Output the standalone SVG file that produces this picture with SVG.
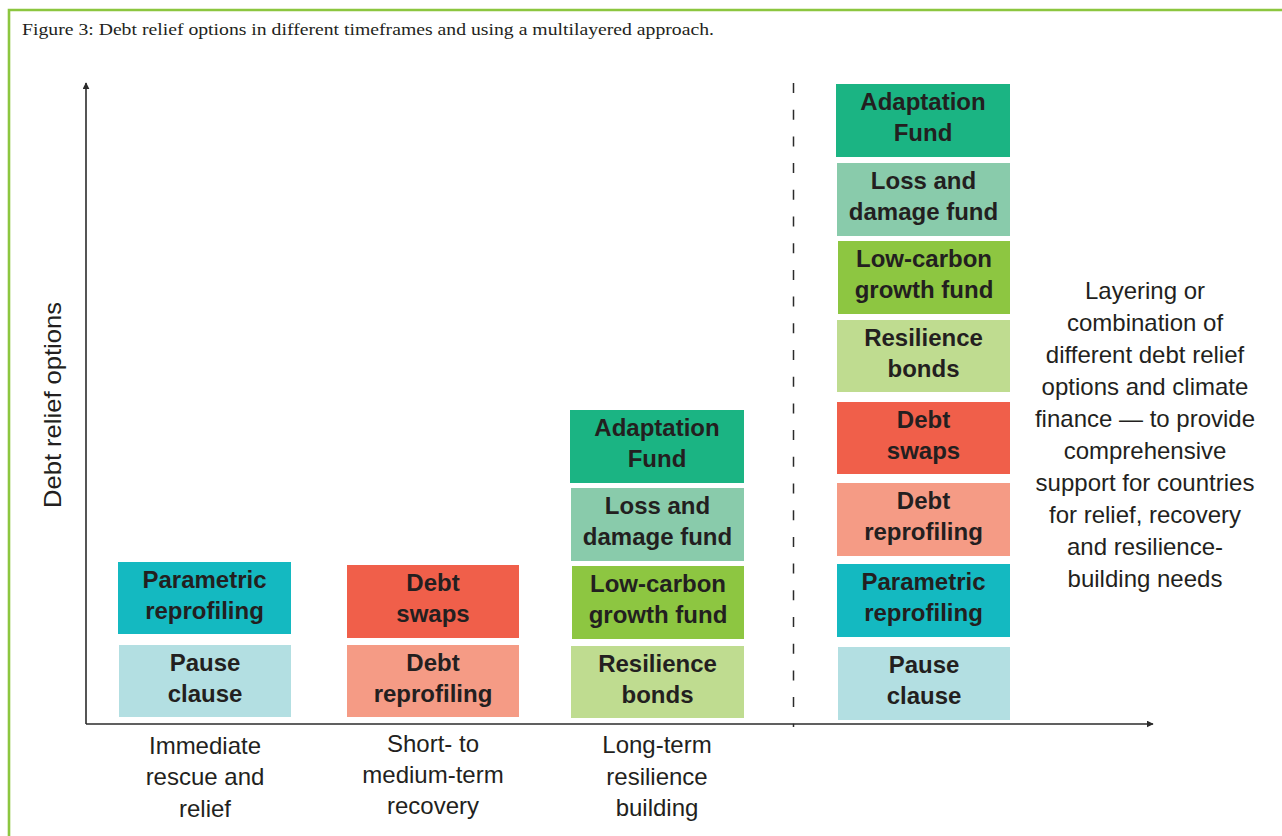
<svg xmlns="http://www.w3.org/2000/svg" width="1282" height="836" viewBox="0 0 1282 836">
<defs>
<style>
.box-label{font-family:"Liberation Sans",Arial,sans-serif;font-size:24px;font-weight:bold;fill:#231f20;text-anchor:middle}
.label{font-family:"Liberation Sans",Arial,sans-serif;font-size:24px;fill:#231f20;text-anchor:middle}
.title{font-family:"Liberation Serif","Times New Roman",serif;font-size:17px;fill:#231f20}
.axis{stroke:#2b2b2b;stroke-width:1.6;fill:none}
.teal{fill:#14b9c1}.paleteal{fill:#b3dfe2}.red{fill:#f05f4a}.salmon{fill:#f59b85}
.green{fill:#1bb483}.mint{fill:#89cbab}.lime{fill:#8dc641}.palelime{fill:#bfdc90}
</style>
<marker id="arr" viewBox="0 0 10 10" refX="9" refY="5" markerWidth="7" markerHeight="7" markerUnits="userSpaceOnUse" orient="auto">
<path d="M0,0 L10,5 L0,10 Z" fill="#2b2b2b"/>
</marker>
</defs>
<rect width="1282" height="836" fill="#ffffff"/>
<path d="M9,836 L9,10 L1282,10" fill="none" stroke="#8cc63f" stroke-width="2.6"/>
<text class="title" x="22" y="35" textLength="692" lengthAdjust="spacingAndGlyphs">Figure 3: Debt relief options in different timeframes and using a multilayered approach.</text>

<g id="connectors">
<line class="axis" x1="86" y1="724" x2="86" y2="83" marker-end="url(#arr)"/>
<line class="axis" x1="86" y1="724" x2="1153" y2="724" marker-end="url(#arr)"/>
<line x1="793.5" y1="83" x2="793.5" y2="727" stroke="#2b2b2b" stroke-width="1.5" stroke-dasharray="10 16.7"/>
</g>

<text class="label" transform="translate(61,405) rotate(-90)" textLength="206" lengthAdjust="spacingAndGlyphs">Debt relief options</text>

<g id="col1-parametric"><rect class="teal" x="118" y="562" width="173" height="72"/><text class="box-label" x="204.5" y="588">Parametric</text><text class="box-label" x="204.5" y="619">reprofiling</text></g>
<g id="col1-pause"><rect class="paleteal" x="119" y="645" width="172" height="72"/><text class="box-label" x="205" y="671">Pause</text><text class="box-label" x="205" y="702">clause</text></g>

<g id="col2-swaps"><rect class="red" x="347" y="565" width="172" height="73"/><text class="box-label" x="433" y="591">Debt</text><text class="box-label" x="433" y="622">swaps</text></g>
<g id="col2-reprofiling"><rect class="salmon" x="347" y="645" width="172" height="72"/><text class="box-label" x="433" y="671">Debt</text><text class="box-label" x="433" y="702">reprofiling</text></g>

<g id="col3-adaptation"><rect class="green" x="570" y="410" width="174" height="73"/><text class="box-label" x="657" y="436">Adaptation</text><text class="box-label" x="657" y="467">Fund</text></g>
<g id="col3-loss"><rect class="mint" x="571" y="488" width="173" height="73"/><text class="box-label" x="657.5" y="514">Loss and</text><text class="box-label" x="657.5" y="545">damage fund</text></g>
<g id="col3-lowcarbon"><rect class="lime" x="572" y="566" width="172" height="73"/><text class="box-label" x="658" y="592">Low-carbon</text><text class="box-label" x="658" y="623">growth fund</text></g>
<g id="col3-resilience"><rect class="palelime" x="571" y="646" width="173" height="72"/><text class="box-label" x="657.5" y="672">Resilience</text><text class="box-label" x="657.5" y="703">bonds</text></g>

<g id="col4-adaptation"><rect class="green" x="836" y="84" width="174" height="73"/><text class="box-label" x="923" y="110">Adaptation</text><text class="box-label" x="923" y="141">Fund</text></g>
<g id="col4-loss"><rect class="mint" x="837" y="163" width="173" height="73"/><text class="box-label" x="923.5" y="189">Loss and</text><text class="box-label" x="923.5" y="220">damage fund</text></g>
<g id="col4-lowcarbon"><rect class="lime" x="838" y="241" width="172" height="73"/><text class="box-label" x="924" y="267">Low-carbon</text><text class="box-label" x="924" y="298">growth fund</text></g>
<g id="col4-resilience"><rect class="palelime" x="837" y="320" width="173" height="72"/><text class="box-label" x="923.5" y="346">Resilience</text><text class="box-label" x="923.5" y="377">bonds</text></g>
<g id="col4-swaps"><rect class="red" x="837" y="402" width="173" height="72"/><text class="box-label" x="923.5" y="428">Debt</text><text class="box-label" x="923.5" y="459">swaps</text></g>
<g id="col4-reprofiling"><rect class="salmon" x="837" y="483" width="173" height="73"/><text class="box-label" x="923.5" y="509">Debt</text><text class="box-label" x="923.5" y="540">reprofiling</text></g>
<g id="col4-parametric"><rect class="teal" x="837" y="564" width="173" height="73"/><text class="box-label" x="923.5" y="590">Parametric</text><text class="box-label" x="923.5" y="621">reprofiling</text></g>
<g id="col4-pause"><rect class="paleteal" x="838" y="647" width="172" height="73"/><text class="box-label" x="924" y="673">Pause</text><text class="box-label" x="924" y="704">clause</text></g>

<g id="label-immediate"><text class="label" x="205" y="754">Immediate</text><text class="label" x="205" y="785">rescue and</text><text class="label" x="205" y="817">relief</text></g>
<g id="label-short"><text class="label" x="433" y="752">Short- to</text><text class="label" x="433" y="783">medium-term</text><text class="label" x="433" y="814">recovery</text></g>
<g id="label-long"><text class="label" x="657" y="753">Long-term</text><text class="label" x="657" y="785">resilience</text><text class="label" x="657" y="816">building</text></g>

<g id="layering-note">
<text class="label" x="1145" y="299">Layering or</text>
<text class="label" x="1145" y="331">combination of</text>
<text class="label" x="1145" y="363">different debt relief</text>
<text class="label" x="1145" y="395">options and climate</text>
<text class="label" x="1145" y="427">finance — to provide</text>
<text class="label" x="1145" y="459">comprehensive</text>
<text class="label" x="1145" y="491">support for countries</text>
<text class="label" x="1145" y="523">for relief, recovery</text>
<text class="label" x="1145" y="555">and resilience-</text>
<text class="label" x="1145" y="587">building needs</text>
</g>
</svg>
